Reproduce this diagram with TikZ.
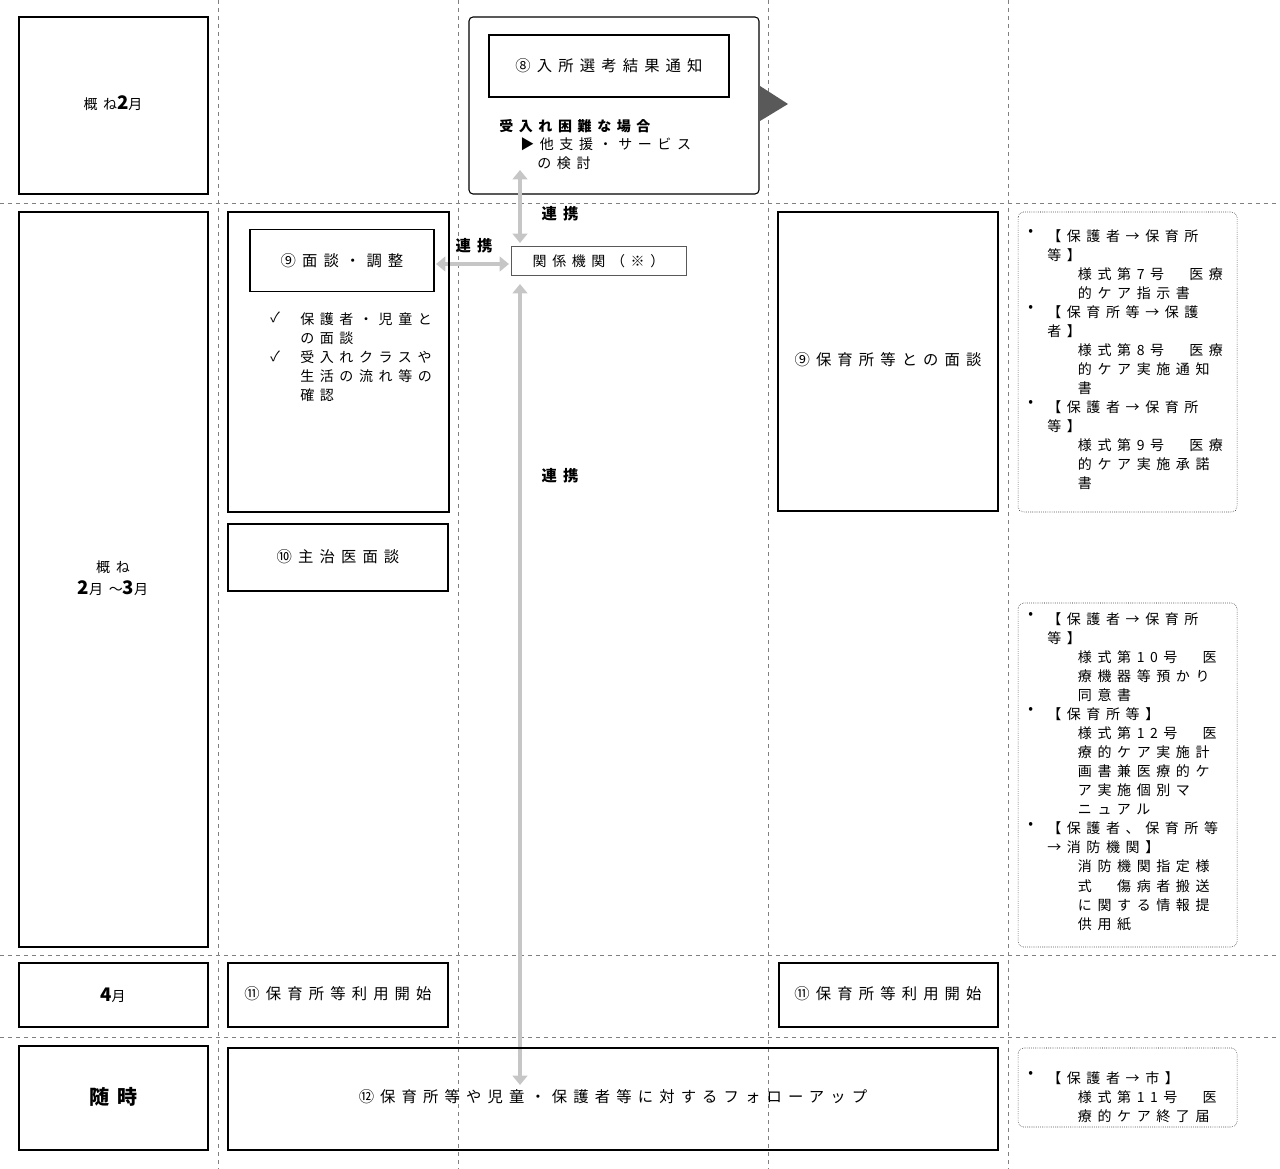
\documentclass[tikz,border=0pt]{standalone}
\usepackage{fontspec}
\setmainfont{Noto Sans CJK JP}[LetterSpace=40]
\usetikzlibrary{positioning}
\tikzset{
  box/.style={draw,thick},
  rbox/.style={draw,thick,rounded corners=3pt},
  dbox/.style={draw,densely dotted,rounded corners=4pt},
  grid/.style={gray,dashed},
  txt/.style={font=\fontsize{10.5}{14.3}\selectfont,inner sep=0pt},
  lst/.style={txt,anchor=north west,align=left},
  link/.style={gray!45,line width=2.5pt,<->,>={Triangle[length=7pt,width=11pt]}}
}
\usetikzlibrary{arrows.meta}
\begin{document}
\begin{tikzpicture}[x=0.75pt,y=-0.75pt]
\useasboundingbox (0,0) rectangle (1280,1169);
% grid
\foreach \x in {218,458,768,1008}
  \draw[grid] (\x,0) -- (\x,1169);
\foreach \y in {203,955,1037}
  \draw[grid] (0,\y) -- (1280,\y);

% month column
\draw[box] (19,17) rectangle (208,194);
\node[txt] (m1) at (113,103) {概ね\\[2pt]{\fontsize{14}{16}\selectfont\bfseries 2}月};
\node[txt,align=center] (m1) at (113,103) {};
\draw[box] (19,212) rectangle (208,947);
\node[txt,align=center] (m2) at (113,578) {概ね\\[2pt]{\fontsize{14}{16}\selectfont\bfseries 2}月～{\fontsize{14}{16}\selectfont\bfseries 3}月};
\draw[box] (19,963) rectangle (208,1027);
\node[txt] (m3) at (113,995) {{\fontsize{14}{16}\selectfont\bfseries 4}月};
\draw[box] (19,1046) rectangle (208,1150);
\node[txt,font=\fontsize{15}{17}\selectfont\bfseries] (m4) at (113,1097) {随時};

% step 8
\draw[rbox] (469,17) rectangle (759,194);
\node[box,minimum width=180pt,minimum height=46.5pt,txt,draw] (s8) at (609,66)
  {\fontsize{11.5}{14}\selectfont ⑧入所選考結果通知};
\node[lst] (hard) at (499,119) {\bfseries 受入れ困難な場合};
\node[lst] (alt) at (520,137) {▶他支援・サービス\\\hspace*{12.8pt}の検討};
\fill[gray!70!black] (760,86) -- (788,104) -- (760,121) -- cycle;

% related agencies
\node[draw,gray!70!black,text=black,txt,minimum width=131pt,minimum height=22pt] (kk) at (598.5,261) {関係機関（※）};
\coordinate (up) at (520,170);
\coordinate (dn) at (520,1085);
\draw[link] (up) -- (520,243);
\draw[link] (520,284) -- (dn);
\draw[link] (436,264) -- (509,264);
\node[txt,font=\fontsize{11.5}{14}\selectfont\bfseries] (r1) at (560,214) {連携};
\node[txt,font=\fontsize{11.5}{14}\selectfont\bfseries] (r2) at (474,246) {連携};
\node[txt,font=\fontsize{11.5}{14}\selectfont\bfseries] (r3) at (560,476) {連携};

% step 9
\draw[box] (228,212) rectangle (449,512);
\node[box,txt,minimum width=138pt,minimum height=47pt] (s9) at (342,260.5) {\fontsize{11.5}{14}\selectfont ⑨面談・調整};
\node[lst] (c1) at (270,312) {✓\\~\\✓};
\node[lst] (c2) at (300,312) {保護者・児童と\\の面談\\受入れクラスや\\生活の流れ等の\\確認};
\draw[box] (228,524) rectangle (448,591);
\node[txt] (s10) at (338,557) {\fontsize{11.5}{14}\selectfont ⑩主治医面談};
\draw[box] (778,212) rectangle (998,511);
\node[txt] (s9b) at (888,360) {\fontsize{11.5}{14}\selectfont ⑨保育所等との面談};

% step 11, 12
\draw[box] (228,963) rectangle (448,1027);
\node[txt] (s11) at (338,994) {\fontsize{11.5}{14}\selectfont ⑪保育所等利用開始};
\draw[box] (779,963) rectangle (998,1027);
\node[txt] (s11b) at (888,994) {\fontsize{11.5}{14}\selectfont ⑪保育所等利用開始};
\draw[box] (228,1048) rectangle (998,1150);
\node[txt] (s12) at (613,1097) {\fontsize{11.5}{14}\selectfont ⑫保育所等や児童・保護者等に対するフォローアップ};

% forms
\draw[dbox] (1018,212) rectangle (1237,512);
\node[lst] (f1) at (1028,229) {•\\~\\~\\~\\•\\~\\~\\~\\~\\•};
\node[lst] (f1t) at (1047,229) {【保護者→保育所\\等】\\\hspace*{23pt}様式第7号　医療\\\hspace*{23pt}的ケア指示書\\【保育所等→保護\\者】\\\hspace*{23pt}様式第8号　医療\\\hspace*{23pt}的ケア実施通知\\\hspace*{23pt}書\\【保護者→保育所\\等】\\\hspace*{23pt}様式第9号　医療\\\hspace*{23pt}的ケア実施承諾\\\hspace*{23pt}書};
\draw[dbox] (1018,603) rectangle (1237,947);
\node[lst] (f2) at (1028,612) {•\\~\\~\\~\\~\\•\\~\\~\\~\\~\\~\\•};
\node[lst] (f2t) at (1047,612) {【保護者→保育所\\等】\\\hspace*{23pt}様式第10号　医\\\hspace*{23pt}療機器等預かり\\\hspace*{23pt}同意書\\【保育所等】\\\hspace*{23pt}様式第12号　医\\\hspace*{23pt}療的ケア実施計\\\hspace*{23pt}画書兼医療的ケ\\\hspace*{23pt}ア実施個別マ\\\hspace*{23pt}ニュアル\\【保護者、保育所等\\→消防機関】\\\hspace*{23pt}消防機関指定様\\\hspace*{23pt}式　傷病者搬送\\\hspace*{23pt}に関する情報提\\\hspace*{23pt}供用紙};
\draw[dbox] (1018,1048) rectangle (1237,1127);
\node[lst] (f3) at (1028,1071) {•};
\node[lst] (f3t) at (1047,1071) {【保護者→市】\\\hspace*{23pt}様式第11号　医\\\hspace*{23pt}療的ケア終了届};
\end{tikzpicture}
\end{document}
